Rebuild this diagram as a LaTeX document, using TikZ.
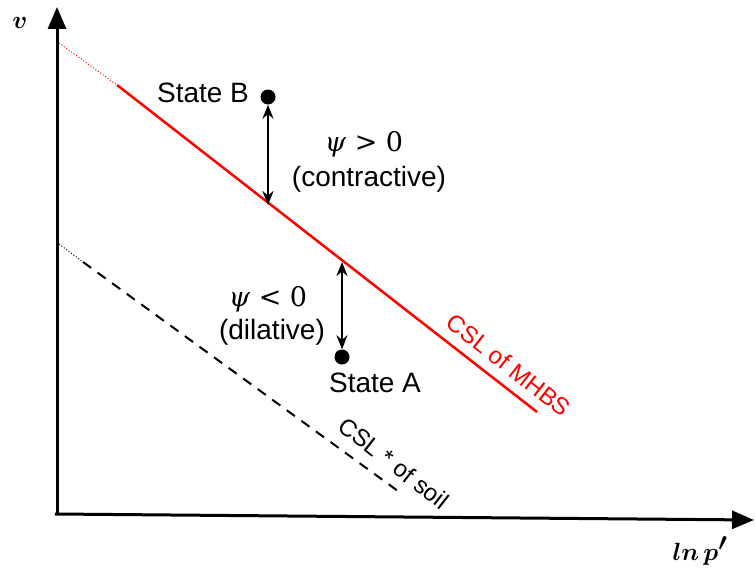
\documentclass[tikz,border=0pt]{standalone}
\usepackage{fontspec}
\setmainfont{Liberation Sans}
\newfontfamily\psifont{DejaVu Serif}
\usepackage{amsmath}
\usepackage{bm}
\usetikzlibrary{arrows.meta}
\begin{document}
\begin{tikzpicture}[x=1pt,y=-1pt,
  font=\fontsize{28}{33}\selectfont,
  axisline/.style={line width=3pt,-{Triangle[width=18pt,length=22pt]}},
  cslred/.style={red,line width=2.5pt},
  cslreddot/.style={red,line width=1pt,dotted},
  csldash/.style={black,line width=2pt,dash pattern=on 10pt off 8pt},
  csldot/.style={black,line width=1pt,dotted},
  psiarrow/.style={line width=2.5pt,{Stealth[length=14pt,width=11pt]}-{Stealth[length=14pt,width=11pt]}},
  statedot/.style={circle,fill=black,inner sep=0pt,minimum size=15pt},
  lbl/.style={inner sep=0pt,anchor=center},
  psilbl/.style={inner sep=0pt,anchor=center,font=\fontsize{27}{30}\psifont},
  axlbl/.style={inner sep=0pt,anchor=center,font=\fontsize{33}{36}\selectfont},
  rotlbl/.style={inner sep=0pt,anchor=center,rotate=-38,font=\fontsize{24}{28}\selectfont}
]
\useasboundingbox (0,0) rectangle (755,578);
% axes
\coordinate (O) at (57,515);
\coordinate (Ytop) at (57,7);
\coordinate (Xl) at (55,514);
\coordinate (Xr) at (754,520);
\draw[axisline] (O) -- (Ytop);
\draw[axisline] (Xl) -- (Xr);
\node[axlbl] (vlab) at (20,23) {$\bm{v}$};
\node[axlbl] (plab) at (700,551) {$\bm{ln\,p'}$};
% red CSL
\coordinate (R0) at (59,43);
\coordinate (R1) at (117,85);
\coordinate (R2) at (537,412);
\draw[cslreddot] (R0) -- (R1);
\draw[cslred] (R1) -- (R2);
% black CSL*
\coordinate (K0) at (59,244);
\coordinate (K1) at (83,262);
\coordinate (K2) at (402,494);
\draw[csldot] (K0) -- (K1);
\draw[csldash] (K1) -- (K2);
% states
\node[statedot] (B) at (268,97) {};
\node[statedot] (A) at (342,357) {};
\coordinate (Bl) at (268,205);
\coordinate (Al) at (342,262);
\draw[psiarrow] (B.south) -- (Bl);
\draw[psiarrow] (Al) -- (A.north);
\node[lbl] (Blab) at (203,93) {State B};
\node[lbl] (Alab) at (375,383) {State A};
\node[psilbl] (psiB) at (364,144) {\textit{ψ} > 0};
\node[lbl] (conB) at (369,179) {(contractive)};
\node[psilbl] (psiA) at (268,299) {\textit{ψ} < 0};
\node[lbl] (dilA) at (272,332) {(dilative)};
\node[rotlbl,red] (cslm) at (509,365) {CSL of MHBS};
\node[rotlbl] (csls) at (394,463) {CSL * of soil};
\end{tikzpicture}
\end{document}
